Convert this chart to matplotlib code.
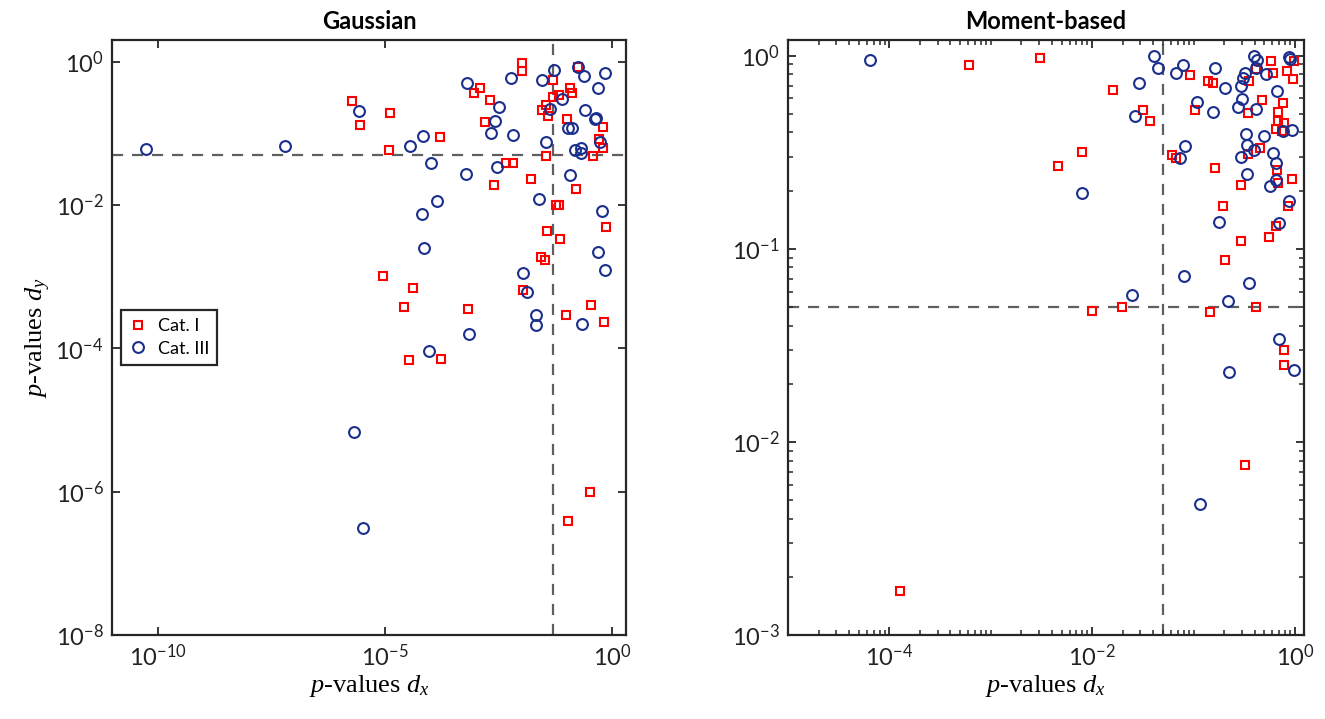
import numpy as np
import matplotlib
matplotlib.use("Agg")
import matplotlib.pyplot as plt
from matplotlib.ticker import FixedLocator, LogLocator, FuncFormatter, NullLocator, NullFormatter

plt.rcParams['font.family'] = ['Lato', 'DejaVu Sans']
plt.rcParams['mathtext.fontset'] = 'custom'
plt.rcParams['mathtext.it'] = 'Liberation Serif:italic'
plt.rcParams['mathtext.rm'] = 'Liberation Serif'

# ---- data: log10 of p-values ----
# Gaussian panel, Cat. I (red squares)
gauss_cat1_logdx = [-5.73, -5.55, -4.88, -4.91, -3.78, -3.04, -2.91, -2.68, -2.79, -1.97,
                    -1.99, -1.29, -1.29, -1.17, -0.92, -0.88, -0.74, -1.54, -1.45, -1.40,
                    -0.99, -0.20, -0.28, -0.20, -0.41, -1.46, -2.34, -2.18, -1.79, -2.59,
                    -0.80, -1.23, -1.17, -0.12, -1.43, -1.15, -1.57, -1.47, -5.04, -4.39,
                    -4.59, -3.18, -1.96, -1.01, -0.46, -0.17, -4.46, -3.77, -0.48, -0.97]
gauss_cat1_logdy = [-0.55, -0.88, -0.71, -1.23, -1.05, -0.44, -0.36, -0.54, -0.84, -0.02,
                    -0.13, -0.25, -0.49, -0.46, -0.36, -0.43, -0.07, -0.67, -0.61, -0.76,
                    -0.80, -0.91, -1.08, -1.21, -1.31, -1.32, -1.41, -1.41, -1.63, -1.72,
                    -1.78, -2.00, -2.00, -2.30, -2.36, -2.48, -2.72, -2.76, -2.99, -3.16,
                    -3.42, -3.45, -3.19, -3.54, -3.39, -3.63, -4.16, -4.15, -6.00, -6.41]
# Gaussian panel, Cat. III (blue circles)
gauss_cat3_logdx = [-10.27, -7.21, -5.58, -4.16, -4.45, -3.99, -3.20, -2.22, -2.49, -2.58,
                    -2.67, -2.18, -3.22, -2.53, -3.86, -4.19, -4.14, -1.54, -1.27, -1.36,
                    -1.10, -0.74, -0.61, -0.15, -0.31, -0.59, -0.35, -0.38, -0.96, -0.88,
                    -1.45, -0.26, -0.81, -0.68, -0.68, -0.92, -1.60, -0.22, -0.30, -0.15,
                    -1.95, -1.86, -1.67, -1.67, -0.67, -3.15, -4.03, -5.69, -5.49]
gauss_cat3_logdy = [-1.22, -1.18, -0.68, -1.04, -1.18, -1.41, -0.30, -0.22, -0.63, -0.82,
                    -1.00, -1.02, -1.57, -1.47, -1.94, -2.12, -2.60, -0.25, -0.11, -0.66,
                    -0.52, -0.07, -0.20, -0.16, -0.36, -0.67, -0.79, -0.80, -0.93, -0.93,
                    -1.115, -1.115, -1.23, -1.21, -1.28, -1.58, -1.92, -2.08, -2.66, -2.91,
                    -2.95, -3.21, -3.53, -3.68, -3.66, -3.80, -4.03, -5.16, -6.51]

# Moment-based panel, Cat. I (red squares)
moment_cat1_logdx = [-3.21, -2.51, -1.79, -2.34, -2.10, -1.50, -1.43, -2.00, -1.71, -1.03,
                     -0.86, -0.81, -0.99, -1.21, -1.17, -0.79, -0.53, -0.71, -0.53, -0.69,
                     -0.84, -0.38, -0.45, -0.38, -0.24, -0.22, -0.075, -0.01, -0.02, -0.32,
                     -0.46, -0.12, -0.17, -0.17, -0.11, -0.19, -0.13, -0.34, -0.46, -0.18,
                     -0.17, -0.03, -0.07, -0.19, -0.26, -0.11, -0.11, -0.49, -3.90]
moment_cat1_logdy = [-0.05, -0.01, -0.18, -0.57, -0.50, -0.28, -0.34, -1.32, -1.30, -0.10,
                     -0.13, -0.14, -0.28, -0.515, -0.53, -0.58, -0.67, -0.78, -0.96, -1.06,
                     -1.33, -1.30, -0.13, -0.07, -0.03, -0.09, -0.08, -0.03, -0.12, -0.23,
                     -0.295, -0.245, -0.29, -0.34, -0.35, -0.38, -0.39, -0.48, -0.51, -0.59,
                     -0.66, -0.64, -0.78, -0.88, -0.94, -1.525, -1.60, -2.12, -2.77]
# Moment-based panel, Cat. III (blue circles)
moment_cat3_logdx = [-4.19, -2.10, -1.54, -1.58, -1.39, -1.35, -1.61, -1.17, -1.10, -1.08,
                     -1.13, -0.97, -1.09, -0.79, -0.81, -0.69, -0.75, -0.66, -0.53, -0.51,
                     -0.49, -0.52, -0.56, -0.48, -0.47, -0.53, -0.47, -0.45, -0.40, -0.37,
                     -0.38, -0.28, -0.38, -0.40, -0.30, -0.18, -0.22, -0.19, -0.19, -0.25,
                     -0.16, -0.055, -0.12, -0.03, -0.06, -0.05, -0.16, -0.01, -0.646, -0.94]
moment_cat3_logdy = [-0.02, -0.71, -0.14, -0.31, 0.0, -0.065, -1.24, -0.09, -0.05, -0.47,
                     -0.53, -0.24, -1.14, -0.065, -0.29, -0.165, -0.86, -1.27, -0.157, -0.114,
                     -0.088, -0.224, -0.267, -0.407, -0.462, -0.527, -0.612, -1.177, 0.0, -0.022,
                     -0.065, -0.097, -0.274, -0.488, -0.414, -0.181, -0.505, -0.557, -0.646, -0.677,
                     -0.867, -0.751, -0.388, -0.386, -0.005, -0.016, -1.465, -1.627, -1.637, -2.32]

threshold = 0.05
titles = ["Gaussian", "Moment-based"]
legend_labels = ["Cat. I", "Cat. III"]

RED = '#ff0000'
BLUE = '#1a2e8c'
FRAME = '#262626'

fig = plt.figure(figsize=(13.25, 7.19), dpi=100)
ax1 = fig.add_axes([112/1325, 84/719, 514/1325, 595/719])
ax2 = fig.add_axes([788/1325, 84/719, 515.5/1325, 595/719])

def fmt(v, pos):
    return r'$\mathdefault{10^{%d}}$' % int(round(np.log10(v)))

panels = [
    (ax1, gauss_cat1_logdx, gauss_cat1_logdy, gauss_cat3_logdx, gauss_cat3_logdy),
    (ax2, moment_cat1_logdx, moment_cat1_logdy, moment_cat3_logdx, moment_cat3_logdy),
]
for i, (ax, x1, y1, x3, y3) in enumerate(panels):
    ax.set_xscale('log')
    ax.set_yscale('log')
    ax.axhline(threshold, color='#5f5f5f', lw=1.6, ls=(0, (5, 4)), zorder=1)
    ax.axvline(threshold, color='#5f5f5f', lw=1.6, ls=(0, (5, 4)), zorder=1)
    ax.plot(10 ** np.array(x1), 10 ** np.array(y1), ls='none', marker='s', ms=5.6,
            mfc='none', mec=RED, mew=1.5, label=legend_labels[0], zorder=3)
    ax.plot(10 ** np.array(x3), 10 ** np.array(y3), ls='none', marker='o', ms=7.8,
            mfc='none', mec=BLUE, mew=1.5, label=legend_labels[1], zorder=3)
    ax.set_title(titles[i], fontsize=17, fontweight='bold', pad=8)
    ax.set_xlabel(r'$p$-values $d_x$', fontfamily='Liberation Serif', fontsize=19, labelpad=2)
    for s in ax.spines.values():
        s.set_linewidth(1.6)
        s.set_color(FRAME)
    ax.tick_params(which='both', direction='in', top=True, right=True, color=FRAME,
                   labelsize=17, labelcolor='#222222')
    ax.tick_params(which='major', length=6, width=1.3, pad=6)
    ax.tick_params(which='minor', length=3.5, width=1.1)

# left panel axes
ax1.set_xlim(10 ** -11.01, 10 ** 0.31)
ax1.set_ylim(1e-8, 10 ** 0.304)
ax1.xaxis.set_major_locator(FixedLocator([1e-10, 1e-5, 1e0]))
ax1.yaxis.set_major_locator(FixedLocator([1e-8, 1e-6, 1e-4, 1e-2, 1e0]))
ax1.xaxis.set_minor_locator(NullLocator())
ax1.yaxis.set_minor_locator(NullLocator())
ax1.set_ylabel(r'$p$-values $d_y$', fontfamily='Liberation Serif', fontsize=19, labelpad=2)

# right panel axes
ax2.set_xlim(1e-5, 10 ** 0.085)
ax2.set_ylim(1e-3, 10 ** 0.081)
ax2.xaxis.set_major_locator(FixedLocator([1e-4, 1e-2, 1e0]))
ax2.yaxis.set_major_locator(FixedLocator([1e-3, 1e-2, 1e-1, 1e0]))
ax2.xaxis.set_minor_locator(LogLocator(base=10, subs=np.arange(1, 10), numticks=30))
ax2.yaxis.set_minor_locator(LogLocator(base=10, subs=np.arange(1, 10), numticks=30))

for ax in (ax1, ax2):
    ax.xaxis.set_major_formatter(FuncFormatter(fmt))
    ax.yaxis.set_major_formatter(FuncFormatter(fmt))
    ax.xaxis.set_minor_formatter(NullFormatter())
    ax.yaxis.set_minor_formatter(NullFormatter())

leg = ax1.legend(loc='upper left', bbox_to_anchor=(0.017, 0.546), borderaxespad=0,
                 fancybox=False, edgecolor=FRAME, fontsize=13, handlelength=1.0,
                 handletextpad=0.6, borderpad=0.45, labelspacing=0.35, framealpha=1)
leg.get_frame().set_linewidth(1.6)

fig.savefig('out.png', dpi=100)
